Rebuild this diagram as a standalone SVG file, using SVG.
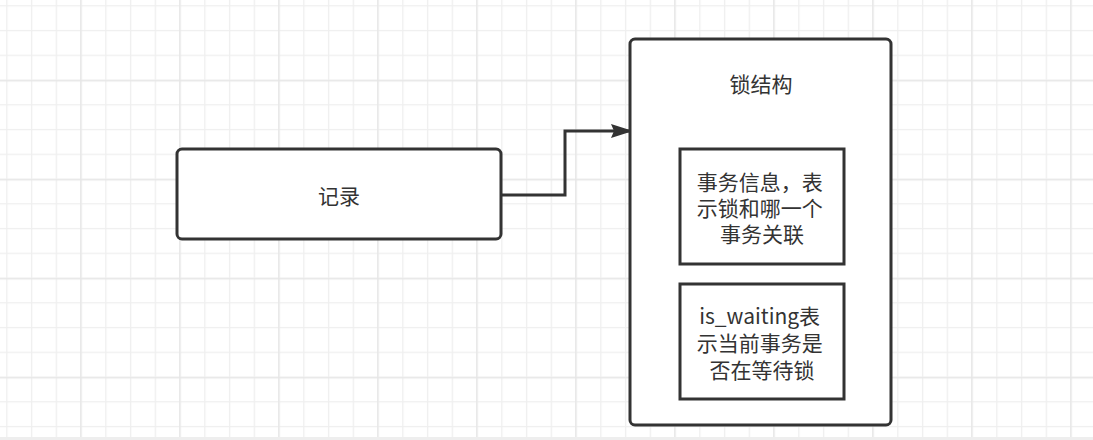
<svg xmlns="http://www.w3.org/2000/svg" width="1093" height="440" viewBox="0 0 1093 440">
  <defs>
    <pattern id="minor" patternUnits="userSpaceOnUse" x="6.2" y="5.2" width="24.75" height="24.75">
      <path d="M0.5 0V24.75M0 0.5H24.75" stroke="#efefef" stroke-width="1.6" fill="none"/>
    </pattern>
    <pattern id="major" patternUnits="userSpaceOnUse" x="80.2" y="80.2" width="99" height="99">
      <path d="M0.5 0V99M0 0.5H99" stroke="#e6e6e6" stroke-width="1.6" fill="none"/>
    </pattern>
    <marker id="arrow" markerUnits="userSpaceOnUse" markerWidth="24" markerHeight="16" refX="22" refY="8" orient="auto" viewBox="0 0 24 16">
      <path d="M0 1L22 8L0 15L3 8Z" fill="#333333"/>
    </marker>
  </defs>
  <style>
    .box { fill: #ffffff; stroke: #333333; stroke-width: 3; }
    .lbl { font-family: "Noto Sans CJK SC", "Microsoft YaHei", sans-serif; font-size: 21px; fill: #333333; text-anchor: middle; dominant-baseline: central; }
    .edge { fill: none; stroke: #333333; stroke-width: 3; }
  </style>
  <rect x="0" y="0" width="1093" height="440" fill="#ffffff"/>
  <rect x="0" y="0" width="1093" height="440" fill="url(#minor)"/>
  <rect x="0" y="0" width="1093" height="440" fill="url(#major)"/>
  <rect x="0" y="437" width="1093" height="3" fill="#eeeeee"/>

  <g id="connectors">
    <path class="edge" d="M501 195H565V131H633" marker-end="url(#arrow)"/>
  </g>

  <g id="record">
    <rect class="box" x="177" y="149" width="324" height="90" rx="5" ry="5"/>
    <text class="lbl" x="339" y="195">记录</text>
  </g>

  <g id="lock">
    <rect class="box" x="630" y="39" width="261" height="386" rx="5" ry="5"/>
    <text class="lbl" x="761" y="83">锁结构</text>
  </g>

  <g id="txinfo">
    <rect class="box" x="680" y="149" width="164" height="115"/>
    <text class="lbl" x="762">
      <tspan x="762" y="181">事务信息，表</tspan>
      <tspan x="762" y="207">示锁和哪一个</tspan>
      <tspan x="762" y="233">事务关联</tspan>
    </text>
  </g>

  <g id="waiting">
    <rect class="box" x="680" y="284" width="164" height="115"/>
    <text class="lbl" x="762">
      <tspan x="762" y="315">is_waiting表</tspan>
      <tspan x="762" y="342">示当前事务是</tspan>
      <tspan x="762" y="369">否在等待锁</tspan>
    </text>
  </g>
</svg>
